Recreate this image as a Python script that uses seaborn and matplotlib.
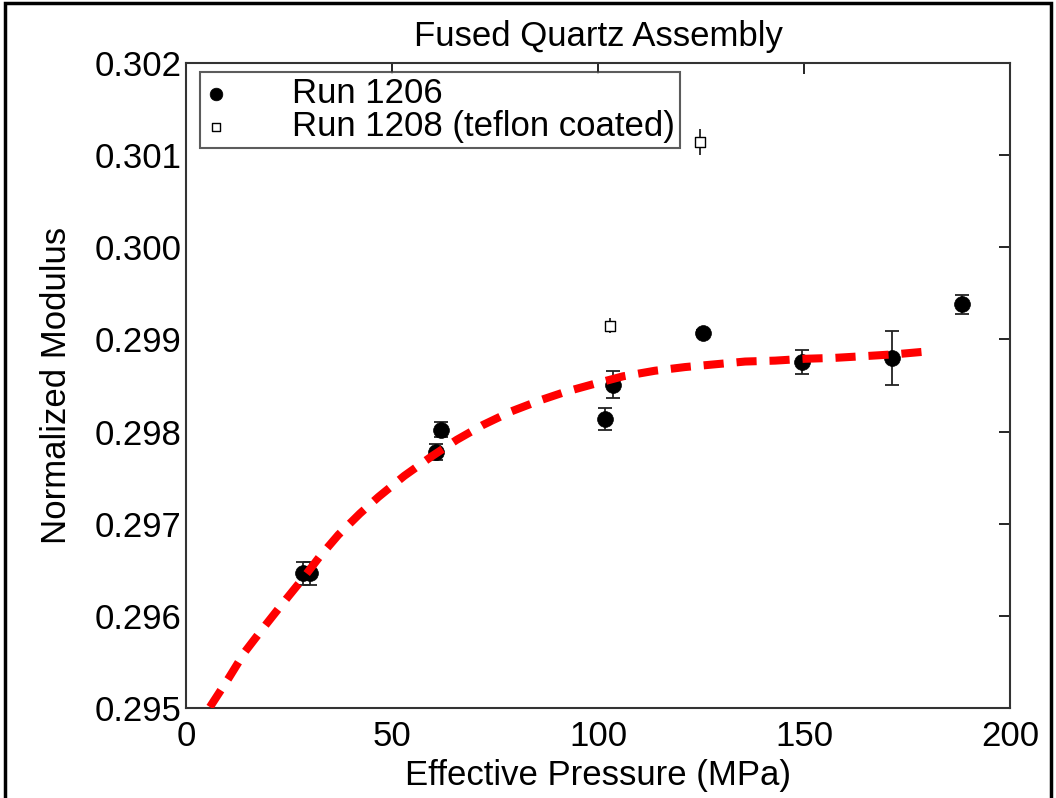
import matplotlib
matplotlib.use("Agg")
import matplotlib.pyplot as plt
from matplotlib.patches import Rectangle
import seaborn as sns
import pandas as pd

# Run 1206 (filled circles)
run1206_p = [28.3, 30.0, 60.8, 61.9, 101.7, 103.7, 125.6, 149.4, 171.3, 188.3]
run1206_m = [0.29646, 0.29646, 0.29778, 0.29802, 0.29814, 0.29851, 0.29907, 0.29876, 0.29880, 0.29938]
run1206_err = [0.00012, 0.00012, 0.00009, 0.00008, 0.00012, 0.00015, 0.00003, 0.00013, 0.00029, 0.00010]

# Run 1208 (open squares)
run1208_p = [102.9, 124.8]
run1208_m = [0.29915, 0.30114]
run1208_err = [0.00008, 0.00014]

# fitted curve
fit_p = [5.8, 10.3, 14.3, 18.6, 23.2, 28.1, 32.4, 37.0, 42.2, 46.7, 53.0, 59.6, 65.7,
         72.0, 79.0, 86.0, 92.0, 99.3, 106.1, 113.8, 121.1, 128.4, 135.7, 143.0,
         150.2, 157.5, 165.2, 172.5, 180.0]
fit_m = [0.29501, 0.29532, 0.29561, 0.29586, 0.29612, 0.29639, 0.29664, 0.29688,
         0.29711, 0.29729, 0.29752, 0.29773, 0.29791, 0.29807, 0.29822, 0.29834,
         0.29843, 0.29852, 0.29860, 0.29866, 0.29870, 0.29873, 0.29876, 0.29877,
         0.29879, 0.29880, 0.29882, 0.29884, 0.29887]

xticks = [0, 50, 100, 150, 200]
yticks = [0.295, 0.296, 0.297, 0.298, 0.299, 0.300, 0.301, 0.302]

sns.set_style("white")
plt.rcParams['font.family'] = ['Liberation Sans', 'DejaVu Sans']
plt.rcParams['text.color'] = 'black'
plt.rcParams['axes.labelcolor'] = 'black'

df1 = pd.DataFrame({'p': run1206_p, 'm': run1206_m})
df2 = pd.DataFrame({'p': run1208_p, 'm': run1208_m})
dfit = pd.DataFrame({'p': fit_p, 'm': fit_m})

fig = plt.figure(figsize=(10.56, 7.98), dpi=100)
ax = fig.add_axes([186/1056, 1-708/798, (1010-186)/1056, (708-63)/798])

ax.errorbar(run1206_p, run1206_m, yerr=run1206_err, fmt='none', ecolor='#222222',
            elinewidth=1.3, capsize=4.7, capthick=1.3, zorder=2)
ax.errorbar(run1208_p, run1208_m, yerr=run1208_err, fmt='none', ecolor='#222222',
            elinewidth=1.3, capsize=0, zorder=2)
sns.scatterplot(data=df1, x='p', y='m', ax=ax, marker='o', s=130, color='black',
                edgecolor='black', linewidth=0.5, label='Run 1206', zorder=3)
sns.scatterplot(data=df2, x='p', y='m', ax=ax, marker='s', s=50, color='white',
                edgecolor='black', linewidth=1.0, label='Run 1208 (teflon coated)', zorder=3)
sns.lineplot(data=dfit, x='p', y='m', ax=ax, color='red', lw=5.8, sort=False,
             dashes=False, zorder=4)
ax.lines[-1].set_dashes((2.5, 1.6))
ax.lines[-1].set_dash_capstyle('butt')

ax.set_xlim(0, 200)
ax.set_ylim(0.295, 0.302)
ax.set_xticks(xticks)
ax.set_xticklabels([str(t) for t in xticks])
ax.set_yticks(yticks)
ax.set_yticklabels([f"{t:.3f}" for t in yticks])
ax.tick_params(direction='in', length=8, width=1.2, top=True, right=True,
               labelsize=25, colors='black')
ax.tick_params(axis='y', pad=3)
ax.tick_params(axis='x', pad=9)
for s in ax.spines.values():
    s.set_visible(True)
    s.set_color('#333333')
    s.set_linewidth(1.5)

ax.set_xlabel('Effective Pressure (MPa)', fontsize=25, labelpad=4)
ax.set_ylabel('Normalized Modulus', fontsize=25, labelpad=16)
ax.set_title('Fused Quartz Assembly', fontsize=25, pad=12)

leg = ax.legend(loc='upper left', bbox_to_anchor=(14/824, 1-9/645), fontsize=25,
                frameon=True, fancybox=False, shadow=False, borderpad=0.15,
                labelspacing=0.0, handletextpad=1.9, handlelength=0.6,
                borderaxespad=0, markerscale=0.8)
leg.get_frame().set_edgecolor('#333333')
leg.get_frame().set_linewidth(1.5)

fig.patches.append(Rectangle((5/1056, -0.05), (1051-5)/1056, 1.05 - 3/798,
                             transform=fig.transFigure, fill=False,
                             edgecolor='black', linewidth=2.5))

fig.savefig('out.png', dpi=100)
